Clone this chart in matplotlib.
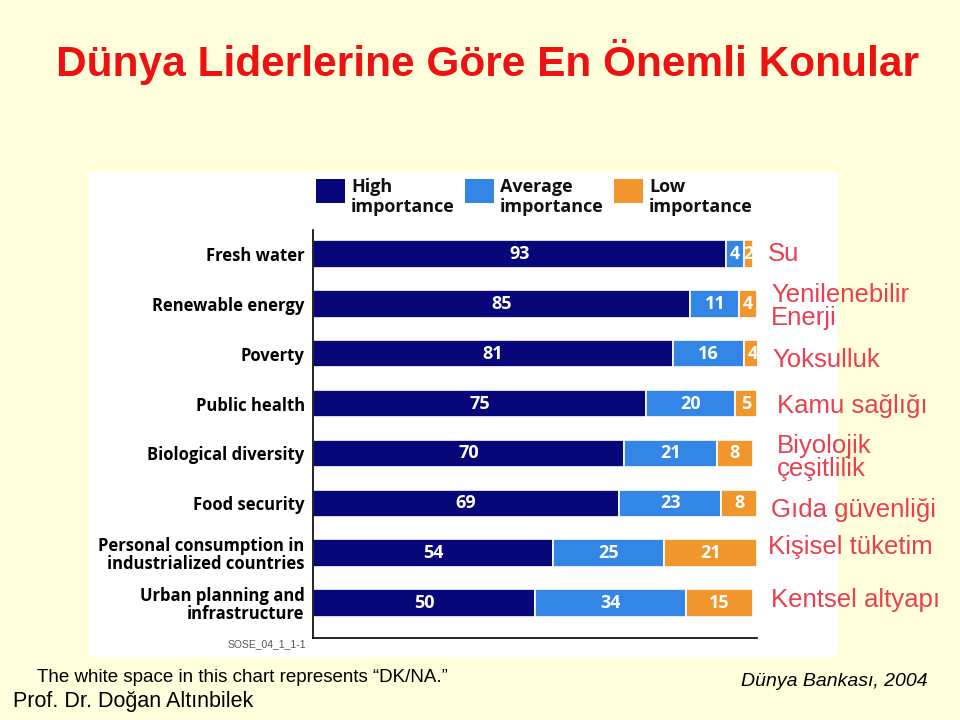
import numpy as np
import matplotlib.pyplot as plt
from matplotlib.patches import Rectangle

# data
categories = ["Fresh water", "Renewable energy", "Poverty", "Public health",
              "Biological diversity", "Food security",
              "Personal consumption in\nindustrialized countries",
              "Urban planning and\ninfrastructure"]
high = [93, 85, 81, 75, 70, 69, 54, 50]
average = [4, 11, 16, 20, 21, 23, 25, 34]
low = [2, 4, 4, 5, 8, 8, 21, 15]
turkish = ["Su", "Yenilenebilir\nEnerji", "Yoksulluk", "Kamu sağlığı",
           "Biyolojik\nçeşitlilik", "Gıda güvenliği", "Kişisel tüketim",
           "Kentsel altyapı"]
series_names = ["High\nimportance", "Average\nimportance", "Low\nimportance"]

colors = ["#07077A", "#3486E6", "#F0962C"]
bg = "#FFFFDC"
red = "#E8404C"

fig = plt.figure(figsize=(9.6, 7.2), dpi=100, facecolor=bg)

# white panel behind the chart
fig.patches.append(Rectangle((88 / 960, 1 - 657 / 720), 750 / 960, 485 / 720,
                             transform=fig.transFigure, facecolor="white",
                             edgecolor="none", zorder=-5))

fig.text(488 / 960, 1 - 62 / 720, "Dünya Liderlerine Göre En Önemli Konular",
         ha="center", va="center", color="#EE1111", fontsize=30.5,
         fontweight="bold", family="Liberation Sans")

ax = fig.add_axes([313 / 960, 1 - 638 / 720, 444 / 960, 408 / 720])
ax.set_zorder(2)
ax.set_facecolor("none")
y = np.arange(len(categories))
left = np.zeros(len(categories))
for vals, c in zip([high, average, low], colors):
    vals = np.array(vals)
    ax.barh(y, vals, left=left, height=0.55, color=c,
            edgecolor="white", linewidth=1.2)
    for yi, l, v in zip(y, left, vals):
        ax.text(l + v / 2, yi, str(v), ha="center", va="center",
                color="white", fontsize=13, fontweight="bold",
                family="Open Sans")
    left = left + vals

ax.set_xlim(0, 100)
ax.set_ylim(7.7, -0.48)
ax.set_xticks([])
ax.set_yticks(y)
ax.set_yticklabels(categories, fontsize=12, fontweight="bold",
                   family="Open Sans", linespacing=1.0)
ax.tick_params(axis="y", length=0, pad=6)
for s in ["top", "right"]:
    ax.spines[s].set_visible(False)
ax.spines["left"].set_linewidth(1.2)
ax.spines["bottom"].set_linewidth(1.2)

# turkish translations on the right
tr_dx = [2.5, 3.2, 3.4, 4.6, 4.4, 3.2, 2.5, 3.2]
tr_dy = [0.0, 0.05, 0.12, 0.04, 0.08, 0.14, -0.12, -0.06]
for yi, t, dx, dy in zip(y, turkish, tr_dx, tr_dy):
    ax.text(100 + dx, yi + dy, t, ha="left", va="center", color=red,
            fontsize=18.5, family="Liberation Sans", linespacing=0.95,
            clip_on=False)

ax.text(-1.6, 7.82, "SOSE_04_1_1-1", ha="right", va="center", fontsize=7.5,
        color="#555555", family="Liberation Sans", clip_on=False)

# legend
leg_x = [316, 465, 614]
for lx, name, c in zip(leg_x, series_names, colors):
    fig.patches.append(Rectangle((lx / 960, 1 - 203 / 720), 29 / 960, 24 / 720,
                                 transform=fig.transFigure, facecolor=c,
                                 edgecolor="none", zorder=2))
    fig.text((lx + 35) / 960, 1 - 197 / 720, name, ha="left", va="center",
             fontsize=13, fontweight="bold", family="Open Sans",
             linespacing=1.2, color="#111111")

fig.text(37 / 960, 1 - 677 / 720,
         "The white space in this chart represents \u201cDK/NA.\u201d",
         ha="left", va="center", fontsize=13.5, family="Liberation Sans")
fig.text(13 / 960, 1 - 701 / 720, "Prof. Dr. Doğan Altınbilek",
         ha="left", va="center", fontsize=15.5, family="Liberation Sans")
fig.text(928 / 960, 1 - 681 / 720, "Dünya Bankası, 2004",
         ha="right", va="center", fontsize=14, style="italic",
         family="Liberation Sans")

fig.savefig("out.png", dpi=100, facecolor=bg)
